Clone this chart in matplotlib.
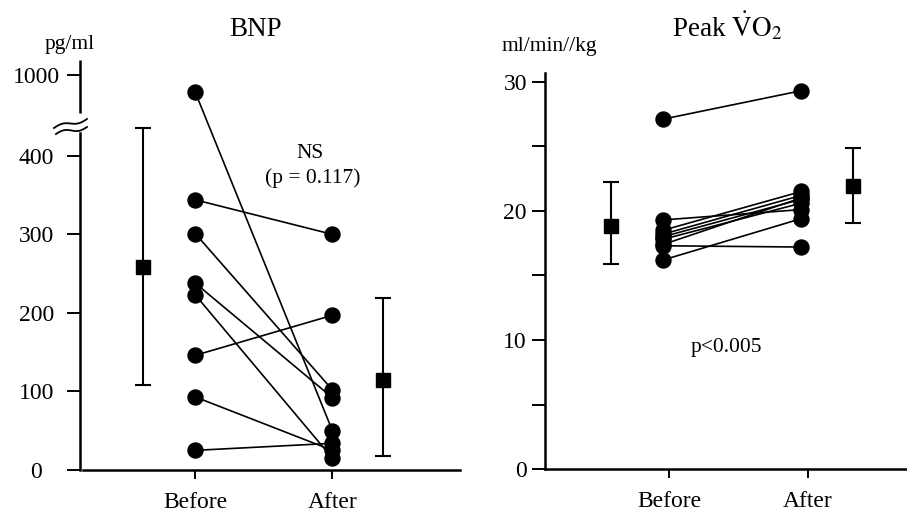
import numpy as np
import matplotlib
matplotlib.use("Agg")
import matplotlib.pyplot as plt
import matplotlib.transforms as mtransforms

plt.rcParams['font.family'] = ['Liberation Serif', 'DejaVu Serif']
plt.rcParams['mathtext.fontset'] = 'stix'

# ---- data ----
groups = ['Before', 'After']

# BNP (pg/ml), one value per patient
bnp_before = [800, 344, 301, 238, 223, 146, 93, 25]
bnp_after = [50, 300, 102, 92, 15, 197, 25, 34]
bnp_mean = [259, 115]
bnp_low = [108, 18]
bnp_high = [435, 219.5]
bnp_ticks = [0, 100, 200, 300, 400, 1000]

# Peak VO2 (ml/min/kg)
vo2_before = [27.1, 19.3, 18.5, 18.2, 18.0, 17.8, 17.4, 17.3, 16.2]
vo2_after = [29.3, 20.1, 21.5, 21.2, 20.9, 20.6, 21.0, 17.2, 19.4]
vo2_mean = [18.85, 21.95]
vo2_low = [15.9, 19.1]
vo2_high = [22.2, 24.85]

W, H = 907, 516
fig = plt.figure(figsize=(W / 100, H / 100), dpi=100)

# broken axis: linear up to B, compressed above
B = 442.0
K = 0.109


def fwd(v):
    v = np.asarray(v, dtype=float)
    return np.where(v <= B, v, B + (v - B) * K)


def inv(d):
    d = np.asarray(d, dtype=float)
    return np.where(d <= B, d, B + (d - B) / K)


def style_axes(ax):
    for s in ['top', 'right']:
        ax.spines[s].set_visible(False)
    for s in ['left', 'bottom']:
        ax.spines[s].set_linewidth(1.8)
    ax.tick_params(axis='y', which='both', direction='out', length=9.5, width=1.4, labelsize=17)
    ax.tick_params(axis='x', direction='out', length=6.5, width=1.4, labelsize=17, pad=9)


def draw_pairs(ax, before, after, dx=0.0):
    for b, a in zip(before, after):
        ax.plot([0 + dx, 1 + dx], [b, a], color='black', lw=1.2, zorder=2)
    ax.plot(np.zeros(len(before)) + dx, before, 'o', color='black', ms=10.8, zorder=3)
    ax.plot(np.ones(len(after)) + dx, after, 'o', color='black', ms=10.8, zorder=3)


def draw_means(ax, xs, mean, low, high):
    yerr = [np.array(mean) - np.array(low), np.array(high) - np.array(mean)]
    ax.errorbar(xs, mean, yerr=yerr, fmt='s', color='black', ms=9.6,
                elinewidth=1.5, capsize=5.8, capthick=1.5, zorder=3)


# ---------- left: BNP ----------
ax1 = fig.add_axes([80 / W, 46 / H, 380 / W, 410 / H])
ax1.set_yscale('function', functions=(fwd, inv))
style_axes(ax1)
ax1.set_xlim(-0.84, 1.93)
ax1.set_ylim(0, 1176)
draw_pairs(ax1, bnp_before, bnp_after)
draw_means(ax1, [-0.38, 1.37], bnp_mean, bnp_low, bnp_high)
ax1.set_xticks([0, 1])
ax1.set_xticklabels(groups)
ax1.set_yticks(bnp_ticks)
ax1.set_yticklabels([str(t) for t in bnp_ticks])
ax1.yaxis.set_minor_locator(matplotlib.ticker.NullLocator())
ax1.tick_params(axis='y', pad=22)
for lab in ax1.get_yticklabels():
    lab.set_ha('center')
ax1.spines['left'].set_bounds(0, 429)
ax1.spines['bottom'].set_bounds(-0.818, 1.93)
trans = mtransforms.blended_transform_factory(ax1.transAxes, ax1.transData)
ax1.plot([0, 0], [561, 1176], color='black', lw=1.8, transform=trans,
         clip_on=False, solid_capstyle='butt')

# break marks (figure pixels)
t = np.linspace(0, 1, 40)
for (x0, y0, x1, y1) in [(54, 128, 87, 119), (56, 134, 87, 127)]:
    xs = x0 + (x1 - x0) * t
    ys = y0 + (y1 - y0) * t - 2.0 * np.sin(2 * np.pi * t)
    fig.add_artist(plt.Line2D(xs / W, 1 - ys / H, color='black', lw=1.3,
                              transform=fig.transFigure))

fig.text(255.5 / W, 1 - 35.7 / H, 'BNP', ha='center', va='baseline', fontsize=19.5)
fig.text(70 / W, 1 - 49.5 / H, 'pg/ml', ha='center', va='baseline', fontsize=15.5)
fig.text(310 / W, 1 - 158.3 / H, 'NS', ha='center', va='baseline', fontsize=15.5)
fig.text(312.7 / W, 1 - 183.3 / H, '(p = 0.117)', ha='center', va='baseline', fontsize=15.5)

# ---------- right: Peak VO2 ----------
ax2 = fig.add_axes([545 / W, 46.7 / H, 362 / W, 396.3 / H])
style_axes(ax2)
ax2.set_xlim(-0.90, 1.72)
ax2.set_ylim(0, 30.67)
draw_pairs(ax2, vo2_before, vo2_after, dx=-0.045)
draw_means(ax2, [-0.42, 1.33], vo2_mean, vo2_low, vo2_high)
ax2.set_xticks([0, 1])
ax2.set_xticklabels(groups)
ax2.set_yticks([0, 10, 20, 30])
ax2.set_yticks([5, 15, 25], minor=True)
ax2.tick_params(axis='y', pad=3.5)
ax2.spines['left'].set_bounds(0, 30.67)

fig.text(727.5 / W, 1 - 36 / H, r'Peak $\dot{\mathrm{V}}\mathrm{O}_2$', ha='center',
         va='baseline', fontsize=19.5)
fig.text(549.5 / W, 1 - 51 / H, 'ml/min//kg', ha='center', va='baseline', fontsize=15.5)
fig.text(726.7 / W, 1 - 351.7 / H, 'p<0.005', ha='center', va='baseline', fontsize=15.5)

fig.savefig('out.png', dpi=100)
